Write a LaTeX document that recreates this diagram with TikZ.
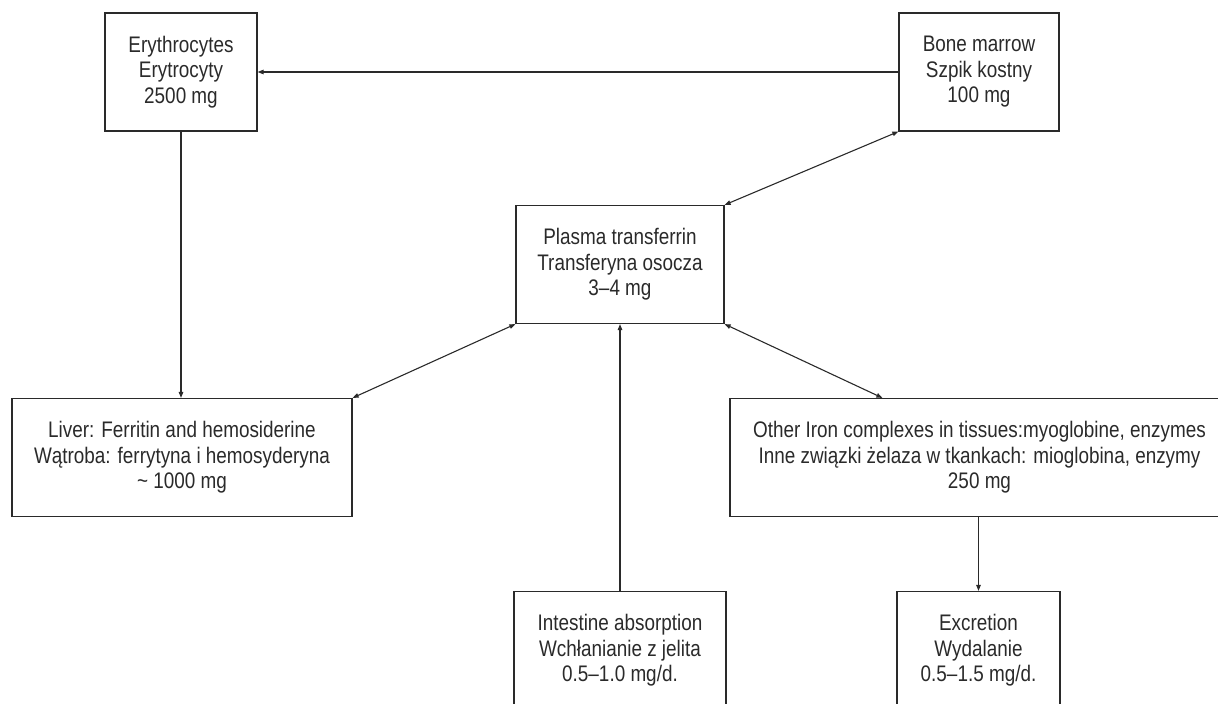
\documentclass[tikz,border=0pt]{standalone}
\usepackage{fontspec}
\setmainfont{Liberation Sans}[FakeStretch=0.84]
\usetikzlibrary{arrows.meta,positioning,calc}
\definecolor{ink}{HTML}{2A2A2A}
\newcommand{\PoolH}{118pt}

\begin{document}
\begin{tikzpicture}[x=1pt, y=-1pt, ink, font=\fontsize{22.5}{25.5}\selectfont,
  pool/.style={draw=ink, line width=1.2pt, align=center, inner sep=0pt, minimum height=\PoolH},
  flow/.style={-{Triangle[length=6pt,width=4.5pt]}, line width=1.1pt},
  swap/.style={{Triangle[length=6pt,width=4.5pt]}-{Triangle[length=6pt,width=4.5pt]}, line width=1.1pt}]

\useasboundingbox (0,0) rectangle (1218,704);

% --- Iron pools ------------------------------------------------------------
\node[pool, minimum width=152pt] (ery) at (181,72) {Erythrocytes\\Erytrocyty\\2500 mg};
\node[pool, minimum width=160pt] (marrow) at (979,72) {Bone marrow\\Szpik kostny\\100 mg};
\node[pool, minimum width=208pt] (plasma) at (620,264.5) {Plasma transferrin\\Transferyna osocza\\3--4 mg};
\node[pool, minimum width=340pt] (liver) at (182,457.5) {Liver: Ferritin and hemosiderine\\W\k{a}troba: ferrytyna i hemosyderyna\\\textasciitilde{} 1000 mg};
\node[pool, minimum width=499pt] (other) at (979.5,457.5) {Other Iron complexes in tissues:myoglobine, enzymes\\Inne zwi\k{a}zki \.zelaza w tkankach: mioglobina, enzymy\\250 mg};
\node[pool, minimum width=212pt] (gut) at (620,650.5) {Intestine absorption\\Wch\l{}anianie z jelita\\0.5--1.0 mg/d.};
\node[pool, minimum width=163pt] (excr) at (978.5,650.5) {Excretion\\Wydalanie\\0.5--1.5 mg/d.};

% --- One-way flows ---------------------------------------------------------
\draw[flow] (marrow.west) -- (ery.east);
\draw[flow] (ery.south) -- (ery.south |- liver.north);
\draw[flow] (plasma.south |- gut.north) -- (plasma.south);
\draw[flow] (excr.north |- other.south) -- (excr.north);

% --- Exchange with plasma ----------------------------------------------------
\draw[swap] (plasma.north east) -- (marrow.south west);
\draw[swap] (plasma.south west) -- (liver.north east);
\draw[swap] (plasma.south east) -- ([xshift=153pt]other.north west);

\end{tikzpicture}
\end{document}
